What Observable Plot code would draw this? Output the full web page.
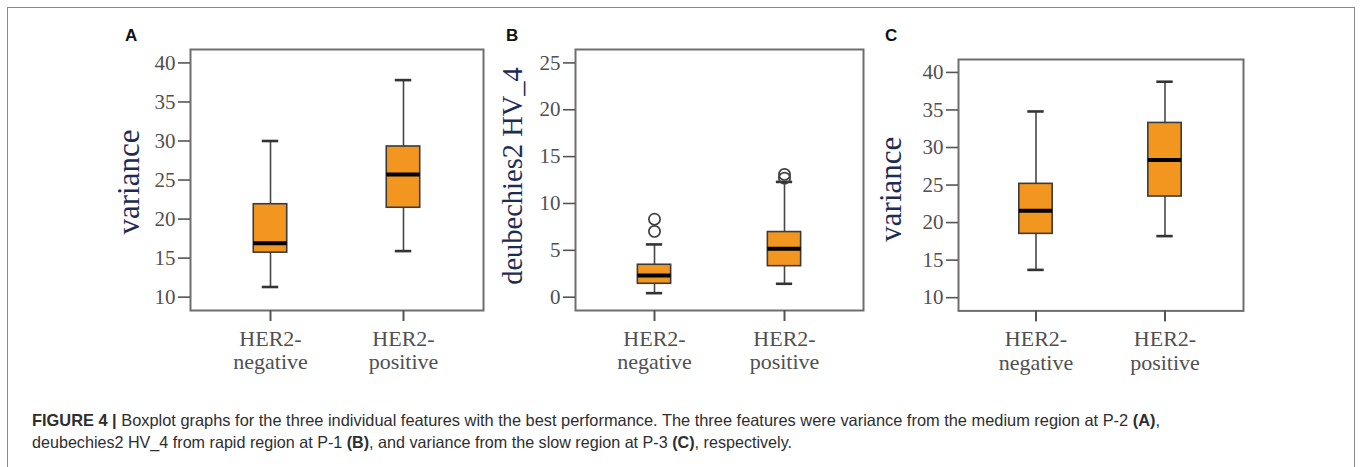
<!DOCTYPE html>
<html>
<head>
<meta charset="utf-8">
<script src="https://cdn.jsdelivr.net/npm/d3@7"></script>
<script src="https://cdn.jsdelivr.net/npm/@observablehq/plot@0.6"></script>
<style>
  html, body { margin: 0; padding: 0; background: #fff; }
  #fig { position: relative; width: 1365px; height: 467px; overflow: hidden; background: #fff; }
  #border { position: absolute; left: 7px; top: 7px; width: 1348px; height: 500px; border: 1.5px solid #8a8a8a; box-sizing: border-box; }
  .plt { position: absolute; }
  .letter { position: absolute; font-family: "Liberation Sans", Arial, sans-serif; font-weight: bold; font-size: 17px; line-height: 1; color: #111; }
  #caption { position: absolute; left: 32px; top: 409px; font-family: "Liberation Sans Narrow", "Liberation Sans", Arial, sans-serif; font-size: 16.5px; line-height: 22px; color: #2e2e2e; }
  #caption .ln { display: block; white-space: nowrap; transform-origin: 0 50%; width: max-content; }
</style>
</head>
<body>
<div id="fig">
  <div id="border"></div>
  <div class="letter" style="left:125px; top:27px;">A</div>
  <div class="letter" style="left:506px; top:27px;">B</div>
  <div class="letter" style="left:885px; top:27px;">C</div>
  <div id="pA" class="plt"></div>
  <div id="pB" class="plt"></div>
  <div id="pC" class="plt"></div>
  <div id="caption">
    <span class="ln" id="cap1"><b>FIGURE 4 |</b> Boxplot graphs for the three individual features with the best performance. The three features were variance from the medium region at P-2 <b>(A)</b>,</span>
    <span class="ln" id="cap2">deubechies2 HV_4 from rapid region at P-1 <b>(B)</b>, and variance from the slow region at P-3 <b>(C)</b>, respectively.</span>
  </div>
</div>
<script>
// ---- data ----
const categories = ["HER2-negative", "HER2-positive"];
const tickLabels = ["HER2-\nnegative", "HER2-\npositive"];

// Panel A: variance (medium region, P-2)
const loA  = [11.3, 15.9];
const q1A  = [15.7, 21.45];
const medA = [16.9, 25.7];
const q3A  = [21.9, 29.3];
const hiA  = [30.0, 37.8];
const ticksA = [10, 15, 20, 25, 30, 35, 40];

// Panel B: deubechies2 HV_4 (rapid region, P-1)
const loB  = [0.43, 1.43];
const q1B  = [1.43, 3.31];
const medB = [2.32, 5.17];
const q3B  = [3.46, 6.95];
const hiB  = [5.63, 12.3];
const outCatB = ["HER2-negative", "HER2-negative", "HER2-positive", "HER2-positive"];
const outValB = [8.32, 7.02, 13.1, 12.7];
const ticksB = [0, 5, 10, 15, 20, 25];

// Panel C: variance (slow region, P-3)
const loC  = [13.7, 18.2];
const q1C  = [18.5, 23.47];
const medC = [21.57, 28.35];
const q3C  = [25.16, 33.27];
const hiC  = [34.8, 38.76];
const ticksC = [10, 15, 20, 25, 30, 35, 40];

function statsTable(lo, q1, med, q3, hi) {
  return categories.map((c, i) => ({cat: c, lo: lo[i], q1: q1[i], med: med[i], q3: q3[i], hi: hi[i]}));
}

function panel(o) {
  const mL = 100, mR = 6, mT = 8, mB = 72, pad = 0.2;
  const bw = (1 - pad) * o.frameW / (2 + pad);
  const boxInset = (bw - 34) / 2, capInset = (bw - 17) / 2;
  const stats = o.stats;
  const serif = "'Liberation Serif', 'Times New Roman', serif";
  const marks = [
    Plot.frame({stroke: "#6e6e6e", strokeWidth: 2}),
    Plot.axisY({ticks: o.yTicks, tickSize: 12, tickPadding: 3, fontSize: 21, fontFamily: serif, fill: "#505050", stroke: "#555", strokeWidth: 1.6, label: null}),
    Plot.axisX({tickSize: 11, tickPadding: 8, fontSize: 22, lineHeight: 1.06, fontFamily: serif, fill: "#505050", stroke: "#555", strokeWidth: 2, label: null, tickFormat: (d) => tickLabels[categories.indexOf(d)]}),
    Plot.text([o.yLabel], {frameAnchor: "left", text: (d) => d, rotate: -90, textAnchor: "middle", lineAnchor: "bottom", dx: o.labelDx, dy: o.labelDy, fontSize: o.labelSize, fontFamily: serif, fill: "#1d2c54"}),
    Plot.ruleX(stats, {x: "cat", y1: "lo", y2: "hi", stroke: "#474747", strokeWidth: 1.6}),
    Plot.tickY(stats, {x: "cat", y: "lo", insetLeft: capInset, insetRight: capInset, stroke: "#333", strokeWidth: 2.6}),
    Plot.tickY(stats, {x: "cat", y: "hi", insetLeft: capInset, insetRight: capInset, stroke: "#333", strokeWidth: 2.6}),
    Plot.barY(stats, {x: "cat", y1: "q1", y2: "q3", fill: "#f3961f", stroke: "#3b3b3b", strokeWidth: 1.6, insetLeft: boxInset, insetRight: boxInset}),
    Plot.tickY(stats, {x: "cat", y: "med", insetLeft: boxInset, insetRight: boxInset, stroke: "#000", strokeWidth: 4})
  ];
  if (o.outCat) {
    const outs = o.outCat.map((c, i) => ({cat: c, v: o.outVal[i]}));
    marks.push(Plot.dot(outs, {x: "cat", y: "v", r: 5.6, stroke: "#404040", strokeWidth: 1.7, fill: "none"}));
  }
  const svg = Plot.plot({
    width: mL + o.frameW + mR,
    height: mT + o.frameH + mB,
    marginLeft: mL, marginRight: mR, marginTop: mT, marginBottom: mB,
    style: {background: "transparent", overflow: "visible"},
    x: {domain: categories, padding: pad, axis: null},
    y: {domain: o.yDomain, axis: null},
    marks
  });
  const el = document.getElementById(o.id);
  el.style.left = (o.frameLeft - mL) + "px";
  el.style.top = (o.frameTop - mT) + "px";
  el.appendChild(svg);
}

panel({id: "pA", frameLeft: 190, frameTop: 49.3, frameW: 293, frameH: 261, yDomain: [8.29, 41.72], yTicks: ticksA,
  stats: statsTable(loA, q1A, medA, q3A, hiA), yLabel: "variance", labelDx: -52, labelDy: 2, labelSize: 31});
panel({id: "pB", frameLeft: 575, frameTop: 49.3, frameW: 288, frameH: 261, yDomain: [-1.42, 26.43], yTicks: ticksB,
  stats: statsTable(loB, q1B, medB, q3B, hiB), outCat: outCatB, outVal: outValB, yLabel: "deubechies2 HV_4", labelDx: -54, labelDy: -4, labelSize: 28.5});
panel({id: "pC", frameLeft: 958.3, frameTop: 59.3, frameW: 285, frameH: 251.4, yDomain: [8.24, 41.72], yTicks: ticksC,
  stats: statsTable(loC, q1C, medC, q3C, hiC), yLabel: "variance", labelDx: -58, labelDy: 4, labelSize: 31});

// fit caption lines to the reference widths
function fit(id, target) {
  const s = document.getElementById(id);
  const w = s.getBoundingClientRect().width;
  if (w > 0) s.style.transform = `scaleX(${target / w})`;
}
fit("cap1", 1128);
fit("cap2", 760);
</script>
</body>
</html>
